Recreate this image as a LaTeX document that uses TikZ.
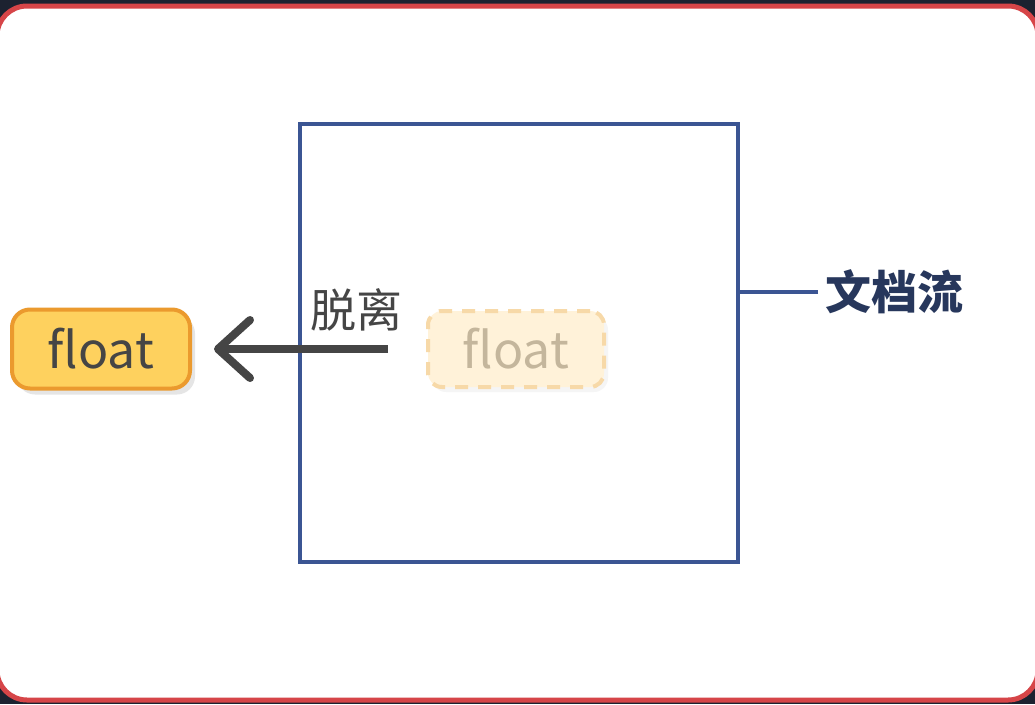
\documentclass[tikz,border=0pt]{standalone}
\usepackage{fontspec}
\newfontfamily\cjk{Noto Sans CJK SC}
\usetikzlibrary{arrows.meta,positioning,shadows}
\definecolor{bgdark}{HTML}{1C2230}
\definecolor{framered}{HTML}{D64548}
\definecolor{flowblue}{HTML}{3B5593}
\definecolor{flownavy}{HTML}{27375C}
\definecolor{textgray}{HTML}{454545}
\definecolor{floatfill}{HTML}{FED15E}
\definecolor{floatdraw}{HTML}{EB9A2E}
\definecolor{ghostfill}{HTML}{FFF2D9}
\definecolor{ghostdraw}{HTML}{F7D9A8}
\definecolor{ghosttext}{HTML}{C4B69C}

\begin{document}
\begin{tikzpicture}[x=1pt, y=-1pt, font=\cjk]
          % frame
          \fill[bgdark] (0,0) rectangle (1035,704);
          \begin{scope}
          \clip (0,0) rectangle (1035,704);
          \draw[framered, line width=5pt, fill=white, rounded corners=30pt] (-3,6) rectangle (1038,700);
          \end{scope}

          % document flow box
          \node[rectangle, draw=flowblue, line width=4pt, minimum width=438pt, minimum height=438pt, anchor=north west] (doc) at (298,122) {};
          \node[text=flownavy, font=\cjk\bfseries\fontsize{46}{46}\selectfont, anchor=west] (flow) at (822,292) {文档流};
          \draw[flowblue, line width=4pt] (flow.west) ++(-4,0) -- (flow.west -| doc.east);

          % floats
          \node[rectangle, rounded corners=14pt, draw=ghostdraw, dashed, dash pattern=on 13pt off 10pt, line width=4pt, fill=ghostfill, minimum width=176pt, minimum height=76pt, text=ghosttext, font=\cjk\fontsize{50}{50}\selectfont, drop shadow={shadow xshift=4pt, shadow yshift=-5pt, opacity=0.08}] (ghost) at (516,349) {float};
          \node[rectangle, rounded corners=18pt, draw=floatdraw, line width=4pt, fill=floatfill, minimum width=178pt, minimum height=79pt, text=textgray, font=\cjk\fontsize{50}{50}\selectfont, drop shadow={shadow xshift=5pt, shadow yshift=-6pt, opacity=0.2}] (float) at (101,349) {float};

          \node[text=textgray, font=\cjk\fontsize{46}{46}\selectfont] (leave) at (356,310) {脱离};

          \draw[-{Straight Barb[length=32pt, width=58pt, line join=round, line cap=round]}, textgray, line width=8pt, shorten <=38pt, shorten >=22pt] (ghost.west) -- (float.east);
        \end{tikzpicture}
\end{document}
